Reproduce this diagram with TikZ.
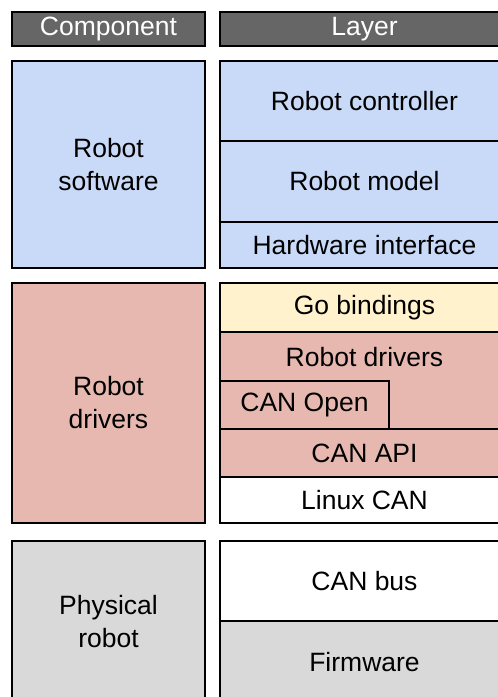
\documentclass[tikz,border=0pt]{standalone}
\usepackage{fontspec}
\setmainfont{Liberation Sans}
\definecolor{headgray}{HTML}{666666}
\definecolor{swblue}{HTML}{C9DAF8}
\definecolor{drvred}{HTML}{E6B8AF}
\definecolor{goyellow}{HTML}{FFF2CC}
\definecolor{hwgray}{HTML}{D9D9D9}
\begin{document}
\begin{tikzpicture}[x=1pt,y=-1pt,
  cell/.style={draw=black, line width=1.5pt, inner sep=0pt, outer sep=0pt,
    align=center, font=\fontsize{26.5}{33}\selectfont},
  head/.style={cell, fill=headgray, text=white, minimum height=34pt},
  leftcol/.style={cell, minimum width=193pt},
  rightcol/.style={cell, minimum width=289pt},
  txt/.style={inner sep=0pt, font=\fontsize{26.5}{33}\selectfont}]
\useasboundingbox (0,0) rectangle (498,697);
\clip (0,0) rectangle (498,697);
\fill[white] (0,0) rectangle (498,697);

% column headers
\node[head, minimum width=193pt] (hcomp) at (108.5,29) {Component};
\node[head, minimum width=289pt] (hlayer) at (364.5,29) {Layer};

% robot software group
\node[leftcol, fill=swblue, minimum height=207pt] (csw) at (108.5,164.5) {Robot\\software};
\node[rightcol, fill=swblue, minimum height=80pt] (lctrl) at (364.5,101) {Robot controller};
\node[rightcol, fill=swblue, minimum height=81pt] (lmodel) at (364.5,181.5) {Robot model};
\node[rightcol, fill=swblue, minimum height=46pt] (lhw) at (364.5,245) {Hardware interface};

% robot drivers group
\node[leftcol, fill=drvred, minimum height=240pt] (cdrv) at (108.5,403) {Robot\\drivers};
\node[rightcol, fill=goyellow, minimum height=49pt] (lgo) at (364.5,307.5) {Go bindings};
\node[rightcol, fill=drvred, minimum height=97pt] (ldrv) at (364.5,380.5) {};
\node[txt] (ldrvtext) at (364.5,357) {Robot drivers};
\node[cell, fill=drvred, minimum width=169pt, minimum height=48pt] (lcanopen) at (304.5,405) {CAN Open};
\node[rightcol, fill=drvred, minimum height=48pt] (lcanapi) at (364.5,453) {CAN API};
\node[rightcol, fill=white, minimum height=46pt] (llinux) at (364.5,500) {Linux CAN};

% physical robot group
\node[leftcol, fill=hwgray, minimum height=162pt] (cphys) at (108.5,622) {Physical\\robot};
\node[rightcol, fill=white, minimum height=80pt] (lbus) at (364.5,581) {CAN bus};
\node[rightcol, fill=hwgray, minimum height=82pt] (lfw) at (364.5,662) {Firmware};
\end{tikzpicture}
\end{document}
